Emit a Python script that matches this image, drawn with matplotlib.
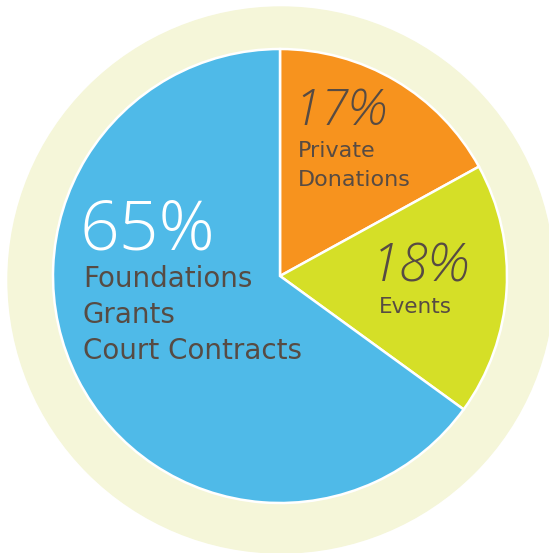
import matplotlib.pyplot as plt
from matplotlib.patches import Circle

W, H = 549, 553

shares = [17, 18, 65]
pct_labels = ["17%", "18%", "65%"]
names = ["Private\nDonations", "Events", "Foundations\nGrants\nCourt Contracts"]
colors = ["#F7931E", "#D5DF27", "#4FBAE8"]

text_col = "#574B43"
plt.rcParams['font.family'] = ['Open Sans', 'DejaVu Sans']

fig = plt.figure(figsize=(W / 100, H / 100), dpi=100)
ax = fig.add_axes([0, 0, 1, 1])

# pale ring behind the pie
ax.add_patch(Circle((281, H - 280), 273, color="#F5F6D9", zorder=0))

ax.pie(shares, colors=colors, startangle=90, counterclock=False,
       center=(280, H - 276), radius=227, frame=True,
       wedgeprops=dict(edgecolor="white", linewidth=1.8))
ax.set_xlim(0, W)
ax.set_ylim(0, H)
ax.set_aspect('equal')
ax.axis('off')

# (x, baseline y) for the percent and the name, in pixels from top-left
pct_pos = [(293, 125), (371, 282), (79, 250)]
name_pos = [(298, 157), (379, 313), (83, 287)]
pct_size = [36, 38, 50]
name_size = [16, 15.5, 20]
pct_colors = [text_col, text_col, "white"]
pct_style = ["italic", "italic", "normal"]
line_gap = [29, 0, 36]

for i in range(3):
    px, py = pct_pos[i]
    ax.text(px, H - py, pct_labels[i], fontsize=pct_size[i], color=pct_colors[i],
            fontweight="light", style=pct_style[i], va="baseline", ha="left")
    nx, ny = name_pos[i]
    for j, line in enumerate(names[i].split("\n")):
        ax.text(nx, H - (ny + j * line_gap[i]), line, fontsize=name_size[i],
                family="DejaVu Sans", color=text_col, va="baseline", ha="left")

fig.savefig("out.png", dpi=100)
